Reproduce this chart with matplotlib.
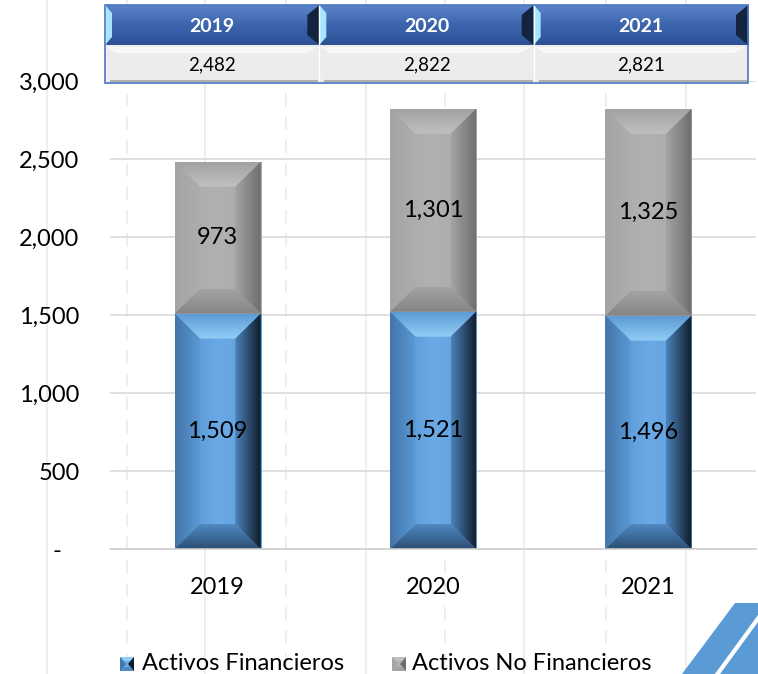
import numpy as np
import matplotlib
matplotlib.use("Agg")
import matplotlib.pyplot as plt
from matplotlib.colors import LinearSegmentedColormap
from matplotlib.patches import Polygon, Rectangle
from matplotlib.ticker import FuncFormatter

plt.rcParams['font.family'] = ['Lato', 'DejaVu Sans']

# data
years = ['2019', '2020', '2021']
financieros = [1509, 1521, 1496]
no_financieros = [973, 1301, 1325]
totales = [2482, 2822, 2821]

W, H = 758, 674
fig = plt.figure(figsize=(W / 100, H / 100), dpi=100)

# background "spreadsheet" layer in pixel coords
bg = fig.add_axes([0, 0, 1, 1], zorder=0)
bg.set_xlim(0, W)
bg.set_ylim(H, 0)
bg.axis('off')
for i, xv in enumerate([47, 127, 205, 286, 366, 445, 524, 606, 686]):
    bg.plot([xv, xv], [0, H], color='#ebebeb', lw=1.2,
            ls='-' if i % 2 == 0 else (0, (8, 6)))

# (outer, inner) colours for each bevel, base is left->mid->right
BLUE = dict(base=['#5390cc', '#6aaae6', '#5d9dd9'],
            top=('#5c9bd6', '#92cdf6'), bottom=('#2c4f74', '#4f89c2'),
            left=('#4575aa', '#5a9ad6'), right=('#0f1b29', '#4c83bb'))
GRAY = dict(base=['#a9a9a9', '#b1b1b1', '#a7a7a7'],
            top=('#a2a2a2', '#c0c0c0'), bottom=('#858585', '#a3a3a3'),
            left=('#a4a4a4', '#adadad'), right=('#6e6e6e', '#a3a3a3'))


def grad_poly(ax, pts, extent, horizontal, c0, c1, z):
    poly = Polygon(pts, closed=True, fc='none', ec='none', transform=ax.transData)
    ax.add_patch(poly)
    cm = LinearSegmentedColormap.from_list('g', [c0, c1])
    img = np.linspace(0, 1, 64)
    img = img.reshape(1, -1) if horizontal else img.reshape(-1, 1)
    im = ax.imshow(img, cmap=cm, extent=extent, aspect='auto',
                   interpolation='bilinear', zorder=z)
    im.set_clip_path(poly)


def bevel_bar(ax, x0, x1, y0, y1, dx, dy, pal, z=2):
    cm = LinearSegmentedColormap.from_list('b', pal['base'])
    ax.imshow(np.linspace(0, 1, 64).reshape(1, -1), cmap=cm, extent=(x0, x1, y0, y1),
              aspect='auto', interpolation='bilinear', zorder=z)
    grad_poly(ax, [(x0, y1), (x1, y1), (x1 - dx, y1 - dy), (x0 + dx, y1 - dy)],
              (x0, x1, y1 - dy, y1), False, pal['top'][0], pal['top'][1], z + 0.1)
    grad_poly(ax, [(x0, y0), (x1, y0), (x1 - dx, y0 + dy), (x0 + dx, y0 + dy)],
              (x0, x1, y0, y0 + dy), False, pal['bottom'][1], pal['bottom'][0], z + 0.1)
    grad_poly(ax, [(x0, y0), (x0, y1), (x0 + dx, y1 - dy), (x0 + dx, y0 + dy)],
              (x0, x0 + dx, y0, y1), True, pal['left'][0], pal['left'][1], z + 0.1)
    grad_poly(ax, [(x1, y0), (x1, y1), (x1 - dx, y1 - dy), (x1 - dx, y0 + dy)],
              (x1 - dx, x1, y0, y1), True, pal['right'][1], pal['right'][0], z + 0.1)


# main chart
ax = fig.add_axes([110 / W, 125 / H, 646 / W, 468 / H], zorder=1)
ax.set_facecolor('none')
for sp in ['top', 'right', 'left']:
    ax.spines[sp].set_visible(False)
ax.spines['bottom'].set_color('#d0d0d0')
ax.spines['bottom'].set_linewidth(1.2)
ax.set_yticks(np.arange(0, 3001, 500))
ax.yaxis.grid(True, color='#d9d9d9', lw=1.2)
ax.set_axisbelow(True)
ax.yaxis.set_major_formatter(FuncFormatter(lambda v, p: '-   ' if v == 0 else f'{v:,.0f}'))
ax.tick_params(axis='y', length=0, pad=22, labelsize=17)
ax.set_xticks(range(len(years)))
ax.set_xticklabels(years)
ax.tick_params(axis='x', length=0, pad=20, labelsize=17)

bw = 0.4
dx = 0.118
dy = 160
for i in range(len(years)):
    x0, x1 = i - bw / 2, i + bw / 2
    bevel_bar(ax, x0, x1, 0, financieros[i], dx, dy, BLUE)
    top = financieros[i] + no_financieros[i]
    bevel_bar(ax, x0, x1, financieros[i], top, dx, dy, GRAY)
    ax.text(i, financieros[i] / 2, f'{financieros[i]:,}', ha='center', va='center',
            fontsize=17, zorder=5)
    ax.text(i, financieros[i] + no_financieros[i] / 2, f'{no_financieros[i]:,}',
            ha='center', va='center', fontsize=17, zorder=5)
ax.set_xlim(-0.5, 2.5)
ax.set_ylim(0, 3000)

# header table on top
tb = fig.add_axes([0, 0, 1, 1], zorder=3)
tb.set_facecolor('none')
tb.axis('off')
tx0, tx1 = 105, 748
cw = (tx1 - tx0) / 3
hdr = LinearSegmentedColormap.from_list('h', ['#5b84c9', '#3c64ad', '#2d5196'])
for i in range(3):
    cx0 = tx0 + i * cw
    cx1 = cx0 + cw
    tb.imshow(np.linspace(0, 1, 32).reshape(-1, 1), cmap=hdr, extent=(cx0, cx1, 45, 5),
              aspect='auto', interpolation='bilinear', zorder=1)
    tb.add_patch(Polygon([(cx0, 5), (cx0 + 7, 13), (cx0 + 7, 37), (cx0, 45)],
                         fc='#a6e4ff', ec='none', zorder=2))
    tb.add_patch(Polygon([(cx1, 5), (cx1 - 12, 15), (cx1 - 12, 35), (cx1, 45)],
                         fc='#14243f', ec='none', zorder=2))
    tb.text((cx0 + cx1) / 2, 26, years[i], color='white', fontweight='bold',
            fontsize=14, ha='center', va='center', zorder=3)
    tb.add_patch(Rectangle((cx0, 45), cw, 38, fc='#ececec', ec='none', zorder=1))
    tb.add_patch(Polygon([(cx0 + 2, 47), (cx1 - 2, 47), (cx1 - 14, 53), (cx0 + 10, 53)],
                         fc='#f8f8f8', ec='none', zorder=2))
    tb.plot([cx0 + 6, cx1 - 2], [81, 81], color='#b0b0b0', lw=1.5, zorder=2)
    tb.plot([cx0, cx0], [5, 83], color='#ffffff', lw=1, zorder=2)
    tb.text((cx0 + cx1) / 2, 65, f'{totales[i]:,}', color='black',
            fontsize=13.5, ha='center', va='center', zorder=3)
tb.add_patch(Rectangle((tx0, 5), tx1 - tx0, 78, fc='none', ec='#4a76c0', lw=1.2, zorder=4))


# legend drawn in pixel coords
def legend_mark(x, y, pal):
    s, b = 14, 4
    x1, yt, yb = x + s, y - s / 2, y + s / 2
    tb.add_patch(Rectangle((x, yt), s, s, fc=pal['base'][1], ec='none', zorder=2))
    tb.add_patch(Polygon([(x, yt), (x1, yt), (x1 - b, yt + b), (x + b, yt + b)],
                         fc=pal['top'][1], ec='none', zorder=3))
    tb.add_patch(Polygon([(x, yb), (x1, yb), (x1 - b, yb - b), (x + b, yb - b)],
                         fc=pal['bottom'][1], ec='none', zorder=3))
    tb.add_patch(Polygon([(x, yt), (x, yb), (x + b + 2, y), ], fc=pal['left'][0],
                         ec='none', zorder=3))
    tb.add_patch(Polygon([(x1, yt), (x1, yb), (x1 - b - 2, y)], fc=pal['right'][0],
                         ec='none', zorder=3))


legend_mark(120, 664, BLUE)
tb.text(142, 663, 'Activos Financieros', fontsize=17, va='center', ha='left', zorder=3)
legend_mark(392, 664, GRAY)
tb.text(412, 663, 'Activos No Financieros', fontsize=17, va='center', ha='left', zorder=3)

# corner logo
tb.add_patch(Polygon([(682, 674), (735, 603), (758, 603), (758, 674)],
                     fc='#5b9bd5', ec='none', zorder=2))
tb.plot([716, 762], [676, 613], color='white', lw=3, zorder=3)
tb.set_xlim(0, W)
tb.set_ylim(H, 0)

fig.savefig('out.png', dpi=100)
